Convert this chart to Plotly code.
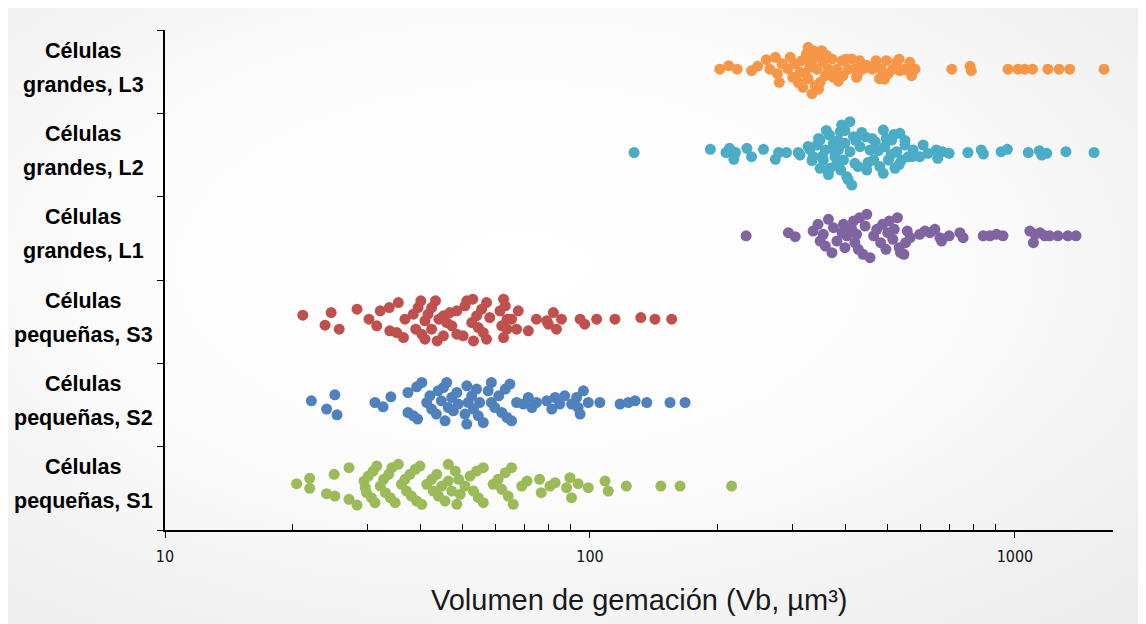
import base64
import numpy as np
import plotly.graph_objects as go

# ---------------- data ----------------
categories = ["Células pequeñas, S1", "Células pequeñas, S2", "Células pequeñas, S3",
              "Células grandes, L1", "Células grandes, L2", "Células grandes, L3"]
label_line1 = ["Células"] * 6
label_line2 = ["pequeñas, S1", "pequeñas, S2", "pequeñas, S3",
               "grandes, L1", "grandes, L2", "grandes, L3"]
colors = ["#9BBB59", "#4F81BD", "#C0504D", "#8064A2", "#4BACC6", "#F79646"]

# budding volume values (µm³) per group
s1_vals = [20.4,21.9,21.9,24,25,25.1,27.1,27.1,28.3,29.4,29.6,29.8,30.1,30.6,30.9,31.2,31.5,32.1,32.7,33,
           33.6,33.9,34.2,34.8,35.4,36,36.7,37,37.7,38,38.8,39.1,39.8,40.2,41.3,42.4,42.8,43.6,44,44.8,
           45.6,46.4,46.4,47.3,48.2,48.6,49.1,49.5,50.8,52.2,53.2,54.1,54.6,56.1,56.1,59.2,60.8,62,63.2,64.2,
           65.4,66,69.1,71.1,76.1,76.8,80.5,82.8,89.7,88.1,90.5,93.8,99.1,108.5,110.4,121.8,146.8,162.9,215.4]
s2_vals = [22.1,24,25.1,25.4,31.2,32.6,34,37.3,37.3,39.1,40.2,38.4,39.3,41.3,42,42.4,43.5,43.9,44.7,45.2,
           45.6,46,46.4,47.3,47.7,48.6,49,50.8,51.3,51.3,51.7,52.7,53.2,54.1,54.6,55,56.1,57.6,58.6,58.6,
           59.7,61,62,63.2,63.8,64.8,65.4,67.2,69.7,71.6,73,74.8,79.1,81.3,82.8,84.9,87.2,90.5,93,93.8,
           94.8,96.5,99.1,105.5,117.7,123.1,127.7,136,154.3,167.4]
s3_vals = [21.1,23.8,24.6,25.7,28.3,30.2,31.5,32.1,33.7,33.8,35.4,35.1,36.4,36.7,38.4,38.9,39.4,40,40.2,40.9,
           40.9,41.6,42.4,42.4,43.3,43.7,44.1,45.2,45.2,46,47.3,46.8,48.6,48.6,50.3,50.8,51.3,52.7,53,53.2,
           54.1,54.6,55.6,56.1,57.1,57.1,58.1,61.4,62,62.6,62.6,63.2,63.8,63.8,65.4,67.2,67.8,71.6,74.8,79.1,
           79.8,82,83.4,85.7,94.8,97.2,103.7,114.5,131.7,142.2,155.7]
l1_vals = [233,293,304,335,344,348,354,358,364,371,374,381,392,395,398,402,413,417,420,424,428,431,439,444,448,
           456,465,473,483,488,497,502,506,516,520,529,534,538,548,553,558,567,597,614,631,648,666,672,700,742,
           755,842,873,905,937,1084,1115,1105,1145,1176,1207,1262,1332,1392]
l2_vals = [127,192,209,213,218,220,234,240,256,273,278,290,309,312,329,335,342,348,348,354,358,366,367,374,377,
           384,388,389,391,395,398,402,409,409,413,417,420,432,444,448,456,465,469,490,490,494,504,513,522,527,
           536,541,551,561,576,597,608,624,653,658,675,700,775,833,843,928,960,1075,1141,1156,1188,1318,1535,
           326,333,345,352,360,364,372,380,384,398,405,422,427,436,451,461,477,481,498,511,519,534,551,573]
l3_vals = [202,212,222,240,248,260,265,273,276,279,283,292,296,300,304,309,312,315,317,323,326,326,333,329,335,
           339,342,345,351,348,354,358,364,371,374,381,392,394,405,413,420,424,431,438,450,462,471,480,484,498,
           503,516,527,536,551,566,571,582,710,784,789,963,1016,1055,1100,1195,1270,1345,1620,
           320,333,345,360,384,400,427,447,493,534,563]

# swarm offsets (in 1/83 of a category band, positive = up)
s1_jit = [2.2,7.5,-2.5,-7.8,11.5,-10.2,18.2,-13.5,-19.2,4.8,-1.8,-6.8,9.8,-11.8,14.8,-16.8,19.8,-0.2,6.5,-6.8,
          11.5,-11.8,18.2,-16.8,21.5,1.5,6.5,-5.2,11.5,-10.2,16.5,-15.2,19.8,-18.5,1.5,6.5,-5.2,11.5,-10.2,-0.2,
          -15.2,21.5,4.8,-5.2,14.8,-18.5,6.5,-8.5,-0.2,9.8,-5.2,14.8,-11.8,18.2,-16.8,1.5,6.5,-3.5,13.2,-10.2,
          18.2,-18.5,-0.2,4.8,6.5,-6.8,-0.2,3.2,8.2,-1.8,-11.8,2.2,-1.8,4.8,-5.2,-0.2,-0.2,-0.2,-0.2]
s2_jit = [1.7,-6.6,7.7,-12.3,0,-4.3,5.7,10,-10,15.7,20,-13.3,-16.6,0,6.7,-6.6,-11.6,11.7,1.7,15,
          -18.3,20,-5,5,-8.3,10,-1.6,-11.6,16.7,-21.6,0,6.7,-6.6,13.4,-13.3,0,-20,11.7,20,0,
          -5,6.7,-10,13.4,-15,18.4,-18.3,0,-1.6,5,-5,0,1.7,-6.6,5,-1.6,6.7,-1.6,5,-5,
          -11.6,11.7,0,0,-1.6,0,1.7,0,0,0]
s3_jit = [4,-6,6.6,-10,10,0,-6.7,8.3,11.6,-11.7,16.6,-13.4,-18.4,0,5,-10,11.6,18.3,-15,-1.7,
          -20,5,11.6,-10,18.3,-21.7,0,3.3,-16.7,-3.4,-6.7,6.6,8.3,-15,-16.7,13.3,18.3,-3.4,20,-21.7,
          3.3,-8.4,10,-13.4,16.6,-20,1.6,8.3,-6.7,20,-18.4,13.3,0,-10,0,-10,8.3,-11.7,0,-1.7,
          -5,6.6,-10,0,0,-5,0,0,1.6,0,0]
l1_jit = [0,3.2,-0.8,4.8,11.5,-5.2,1.5,-10.2,16.5,-16.8,8.2,-5.2,3.2,11.5,-11.8,0,6.5,14.8,-6.8,1.5,
          -13.5,18.2,-18.5,9.8,21.5,-21.8,0,6.5,-6.8,11.5,-13.5,3.2,14.8,-3.5,6.5,18.2,-11.8,-16.8,-18.5,-6.8,
          4.8,-1.8,1.5,4.8,3.2,6.5,-1.8,-5.2,0,3.2,-1.8,0,0,1.5,0,4.8,1.5,-6.8,3.2,0,0,0,0,0]
l2_jit = [0,3.2,0,4.2,-6.8,0,4.2,-4.2,3.2,-6.8,0,0,0,-2.5,3.2,-4.2,7.5,12.5,-15.8,-7.5,
          2.5,17.5,-15.8,9.2,-4.2,2.5,20.8,-17.5,27.5,-7.5,9.2,-24.2,30.8,0.8,-32.5,15.8,-10.8,5.8,15.8,-17.5,
          2.5,-7.5,10.8,22.5,-20.8,5.8,-7.5,12.5,-15.8,0.8,19.2,-7.5,7.5,-4.2,2.5,-4.2,7.5,-0.8,2.5,-5.8,
          0.8,-0.8,0,2.5,-1.5,0.8,3.2,0,1.8,-2.5,-0.8,0.8,0,
          6,-8,14,-4,22,-22,4,-12,12,22,-27,12,-14,20,-10,14,2,-14,14,-2,18,-12,12,-4]
l3_jit = [0,3.5,0,-1.5,2.8,9.5,0,11.8,-4.5,-13.2,5.5,0.5,11.8,-8.2,5.5,-13.2,-3.2,8.5,-18.2,15.2,
          21.8,-9.5,-24.5,1.8,18.5,-16.5,0,13.5,18.5,-13.2,6.8,-6.5,0,10.2,-8.2,0,8.5,-6.5,0,10.2,
          0,-8.2,8.5,0,1.8,0,8.5,-9.5,0,8.5,-4.5,0,6.8,-1.5,0,6.8,-6.5,0,0,2.8,-1.5,0,0,0,0,0,0,0,0,
          -4,8,-20,14,-12,10,-4,4,-10,10,-2]

values = [s1_vals, s2_vals, s3_vals, l1_vals, l2_vals, l3_vals]
jitters = [s1_jit, s2_jit, s3_jit, l1_jit, l2_jit, l3_jit]

x_ticks = [10, 100, 1000]
x_minor = [20, 30, 40, 50, 60, 70, 80, 90, 200, 300, 400, 500, 600, 700, 800, 900]
x_title = "Volumen de gemación (Vb, µm³)"

# ---------------- figure ----------------
fig = go.Figure()
for i, (vals, jit, col, name) in enumerate(zip(values, jitters, colors, categories)):
    assert len(vals) == len(jit), name
    y = i + 0.53 + np.array(jit) / 83.3
    fig.add_trace(go.Scatter(
        x=vals, y=y, mode="markers", name=name,
        marker=dict(size=11, color=col, line=dict(width=0)),
        showlegend=False, hoverinfo="x+name"))

# page is drawn with an 8px body margin
W, H = 1138, 616
L, T = 157, 22
pw, ph = 948, 500
R, B = W - L - pw, H - T - ph

# background gradient
svg = ("<svg xmlns='http://www.w3.org/2000/svg' width='1146' height='624'>"
       "<defs><radialGradient id='g' cx='0.45' cy='0.42' r='0.8'>"
       "<stop offset='0' stop-color='#ffffff'/><stop offset='0.45' stop-color='#fcfcfc'/>"
       "<stop offset='1' stop-color='#ebebeb'/></radialGradient></defs>"
       "<rect width='1146' height='624' fill='url(#g)'/></svg>")
src = "data:image/svg+xml;base64," + base64.b64encode(svg.encode()).decode()

fig.add_layout_image(dict(source=src, xref="paper", yref="paper",
                          x=-L / pw, y=1 + T / ph, sizex=W / pw, sizey=H / ph,
                          xanchor="left", yanchor="top", sizing="stretch", layer="below"))

label_font = dict(family="Liberation Sans, Arial, sans-serif", size=21.5, color="#000")
annotations = []
for i in range(6):
    annotations.append(dict(x=-82 / pw, xref="paper", y=i + 0.5 + 21 / 83.3, yref="y",
                            text="<b>" + label_line1[i] + "</b>", showarrow=False,
                            xanchor="center", yanchor="middle", font=label_font))
    annotations.append(dict(x=-82 / pw, xref="paper", y=i + 0.5 - 13 / 83.3, yref="y",
                            text="<b>" + label_line2[i] + "</b>", showarrow=False,
                            xanchor="center", yanchor="middle", font=label_font))
annotations.append(dict(x=0.5, xref="paper", y=-70 / ph, yref="paper", text=x_title,
                        showarrow=False, xanchor="center", yanchor="middle",
                        font=dict(family="Liberation Sans, Arial, sans-serif", size=29, color="#1a1a1a")))

fig.update_layout(
    width=W, height=H,
    margin=dict(l=L, r=R, t=T, b=B),
    paper_bgcolor="#f3f3f3",
    plot_bgcolor="rgba(0,0,0,0)",
    annotations=annotations,
    xaxis=dict(type="log", range=[1, np.log10(1701)],
               tickmode="array", tickvals=x_ticks, ticktext=[str(v) for v in x_ticks],
               ticks="outside", ticklen=6, tickwidth=1.3, tickcolor="#000",
               showline=True, linecolor="#000", linewidth=1.5,
               showgrid=False, zeroline=False, ticklabelstandoff=5,
               tickfont=dict(family="Liberation Sans Narrow, DejaVu Sans Condensed, Liberation Sans",
                             size=16, color="#111"),
               minor=dict(tickmode="array", tickvals=x_minor, ticks="inside", ticklen=6,
                          tickwidth=1.3, tickcolor="#000", showgrid=False)),
    yaxis=dict(range=[0, 6], tickmode="array", tickvals=[0, 1, 2, 3, 4, 5, 6],
               showticklabels=False, ticks="outside", ticklen=6, tickwidth=1.3, tickcolor="#000",
               showline=True, linecolor="#000", linewidth=1.5,
               showgrid=False, zeroline=False, fixedrange=True),
)

fig.write_html("out.html")
